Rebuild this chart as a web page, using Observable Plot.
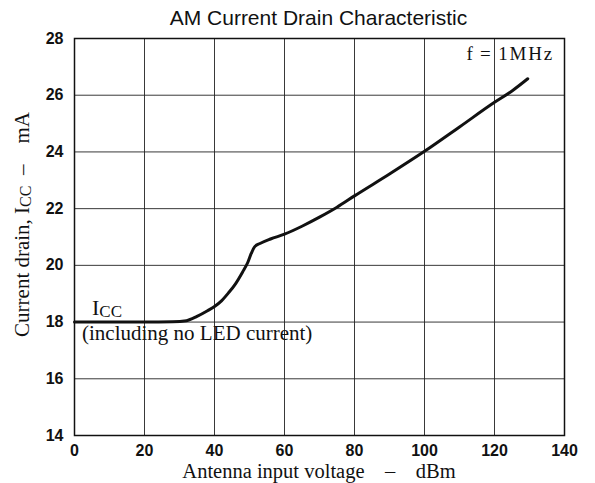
<!DOCTYPE html>
<html><head><meta charset="utf-8">
<script src="https://cdn.jsdelivr.net/npm/d3@7"></script>
<script src="https://cdn.jsdelivr.net/npm/@observablehq/plot@0.6"></script>
<style>
body{margin:0;background:#fff;width:595px;height:483px;overflow:hidden}
#title{height:26px;line-height:36px;text-align:center;font-family:"Liberation Sans",Arial,sans-serif;font-size:21px;color:#111;padding-left:42px;box-sizing:border-box;white-space:nowrap}
#chart svg{overflow:visible}
</style></head><body>
<div id="title">AM Current Drain Characteristic</div>
<div id="chart"></div>
<script>
const xTicks = [0, 20, 40, 60, 80, 100, 120, 140];
const yTicks = [14, 16, 18, 20, 22, 24, 26, 28];
const inputDbm = [0, 10, 20, 28, 32, 35, 38, 40, 42, 44, 46, 48, 49.5, 50.5, 51.5, 53, 56, 60, 65, 70, 75, 80, 90, 100, 110, 120, 125, 129.5];
const drainMa  = [18, 18, 18, 18.01, 18.05, 18.2, 18.4, 18.55, 18.75, 19.03, 19.35, 19.76, 20.1, 20.42, 20.66, 20.77, 20.93, 21.1, 21.38, 21.7, 22.05, 22.45, 23.22, 24.02, 24.88, 25.75, 26.15, 26.58];
const xLabel = "Antenna input voltage\u2002\u2002–\u2002\u2002dBm";
const freqNote = "f\u2009=\u20091MHz";
const curveNote = "(including no LED current)";

const points = inputDbm.map((x, i) => ({x, y: drainMa[i]}));
const tickFont = {fontFamily: "'Liberation Sans', Arial, sans-serif", fontSize: 16, fontWeight: "bold"};

const plot = Plot.plot({
  width: 595,
  height: 457,
  marginLeft: 74,
  marginRight: 31,
  marginTop: 12,
  marginBottom: 48,
  style: {background: "#fff", color: "#111"},
  x: {domain: [0, 140]},
  y: {domain: [14, 28]},
  marks: [
    Plot.ruleX(xTicks, {stroke: "#222", strokeWidth: 0.9}),
    Plot.ruleY(yTicks, {stroke: "#222", strokeWidth: 0.9}),
    Plot.frame({stroke: "#111", strokeWidth: 1.5}),
    Plot.axisX({ticks: xTicks, tickSize: 0, tickPadding: 9, label: null, ...tickFont}),
    Plot.axisY({ticks: yTicks, tickSize: 0, tickPadding: 11, label: null, ...tickFont}),
    Plot.line(points, {x: "x", y: "y", curve: "monotone-x", stroke: "#111", strokeWidth: 3})
  ]
});
document.getElementById("chart").appendChild(plot);

const xs = plot.scale("x"), ys = plot.scale("y");
const svg = d3.select(plot);
const serif = "'Liberation Serif', 'Times New Roman', serif";

// y-axis label with subscript
const yl = svg.append("text")
  .attr("transform", `translate(29,${(ys.apply(28) + ys.apply(14)) / 2 - 12}) rotate(-90)`)
  .attr("text-anchor", "middle")
  .attr("font-family", serif).attr("font-size", 21).attr("fill", "#111");
yl.append("tspan").text("Current drain, I");
yl.append("tspan").attr("font-size", 16).attr("dy", 2).text("CC");
yl.append("tspan").attr("dy", -2).text("\u2002–\u2002\u2002mA");

// x-axis label
svg.append("text")
  .attr("x", (xs.apply(0) + xs.apply(140)) / 2)
  .attr("y", ys.apply(14) + 43)
  .attr("text-anchor", "middle")
  .attr("font-family", serif).attr("font-size", 20.5).attr("fill", "#111")
  .style("white-space", "pre")
  .text(xLabel);

// f = 1MHz
svg.append("text")
  .attr("x", xs.apply(140) - 10)
  .attr("y", ys.apply(28) + 22)
  .attr("text-anchor", "end")
  .attr("font-family", serif).attr("font-size", 19).attr("fill", "#111")
  .attr("letter-spacing", 1.8)
  .text(freqNote);

// I_CC label
const icc = svg.append("text")
  .attr("x", xs.apply(0) + 18)
  .attr("y", ys.apply(18) - 7)
  .attr("text-anchor", "start")
  .attr("font-family", serif).attr("font-size", 22).attr("fill", "#111");
icc.append("tspan").text("I");
icc.append("tspan").attr("font-size", 17).attr("dy", 2).text("CC");

// note under the curve
svg.append("text")
  .attr("x", xs.apply(0) + 8)
  .attr("y", ys.apply(18) + 18)
  .attr("text-anchor", "start")
  .attr("font-family", serif).attr("font-size", 21).attr("fill", "#111")
  .text(curveNote);
</script>
</body></html>
